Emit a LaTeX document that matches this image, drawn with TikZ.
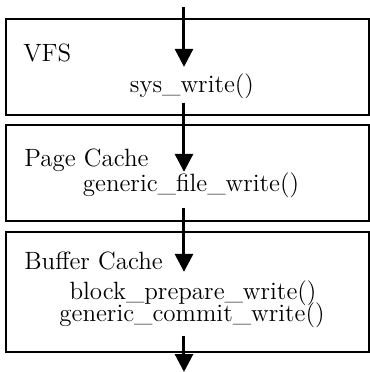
\documentclass[tikz,border=0pt]{standalone}
\usetikzlibrary{arrows.meta}
\begin{document}
\begin{tikzpicture}[x=0.5pt,y=-0.5pt,
	layer/.style={draw,line width=0.65pt,minimum width=181.5pt,inner sep=0pt},
	txt/.style={inner sep=0pt,font=\fontsize{12.5pt}{15pt}\selectfont},
	flow/.style={line width=1.5pt,-{Triangle[length=9pt,width=9pt]}}]
	\useasboundingbox (0,0) rectangle (370,372);
	%Layers
		%VFS
		\node [layer,minimum height=48pt] (vfs) at (187.5,67) {};
		\node [txt,anchor=base west] (vfsname) at (23,61) {VFS};
		\node [txt,anchor=base] (sys) at (192,92) {sys\_write()};
		%Page cache
		\node [layer,minimum height=48pt] (pagecache) at (187.5,173) {};
		\node [txt,anchor=base west] (pcname) at (24,166) {Page Cache};
		\node [txt,anchor=base] (gfw) at (191,191) {generic\_file\_write()};
		%Buffer cache
		\node [layer,minimum height=60pt] (buffercache) at (187.5,292) {};
		\node [txt,anchor=base west] (bcname) at (24,269) {Buffer Cache};
		\node [txt,anchor=base] (bpw) at (193,299) {block\_prepare\_write()};
		\node [txt,anchor=base] (gcw) at (192,321) {generic\_commit\_write()};
	%Write path
		\coordinate (in) at (184,7);
		\coordinate (out) at (184,372);
		\draw [flow,shorten >=3pt] (in) -- (in |- sys.north);
		\draw [flow,shorten <=2pt] (in |- sys.south) -- (in |- gfw.north);
		\draw [flow,shorten <=5pt,shorten >=4pt] (in |- gfw.south) -- (in |- bpw.north);
		\draw [flow,shorten <=4pt] (in |- gcw.south) -- (out);
\end{tikzpicture}
\end{document}
